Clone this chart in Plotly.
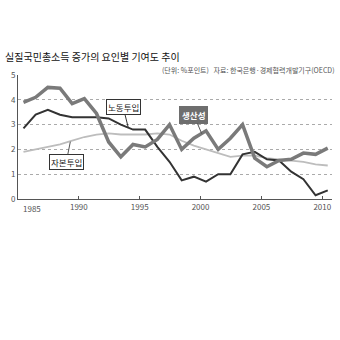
import plotly.graph_objects as go

years = list(range(1985, 2011))
productivity = [3.9, 4.1, 4.5, 4.47, 3.85, 4.05, 3.45, 2.3, 1.7, 2.2, 2.1, 2.4, 3.0, 2.0, 2.45, 2.75,
                2.0, 2.45, 3.0, 1.65, 1.3, 1.55, 1.6, 1.85, 1.8, 2.05]
labor = [2.85, 3.4, 3.6, 3.4, 3.3, 3.3, 3.3, 3.25, 3.0, 2.8, 2.8, 2.1, 1.5, 0.75, 0.9, 0.7,
         1.0, 1.0, 1.8, 1.9, 1.6, 1.55, 1.1, 0.8, 0.15, 0.35]
capital = [1.9, 2.0, 2.1, 2.2, 2.35, 2.5, 2.6, 2.65, 2.6, 2.6, 2.6, 2.65, 2.6, 2.35, 2.15, 2.0,
           1.85, 1.7, 1.75, 1.75, 1.65, 1.6, 1.55, 1.5, 1.4, 1.35]
x_ticks = [1985, 1990, 1995, 2000, 2005, 2010]
y_ticks = [0, 1, 2, 3, 4, 5]

# each year's value is drawn at the middle of that year
x_pos = [y + 0.45 for y in years]

FONT = "Noto Sans CJK KR"

fig = go.Figure()
fig.add_trace(go.Scatter(x=x_pos, y=capital, mode="lines", line=dict(color="#bdbdbd", width=1.8),
                         name="자본투입", showlegend=False))
fig.add_trace(go.Scatter(x=x_pos, y=labor, mode="lines", line=dict(color="#333333", width=2),
                         name="노동투입", showlegend=False))
fig.add_trace(go.Scatter(x=x_pos, y=productivity, mode="lines", line=dict(color="#7a7a7a", width=3.5),
                         name="생산성", showlegend=False))

fig.update_layout(
    width=340, height=340,
    margin=dict(l=18, r=8, t=75, b=141),
    paper_bgcolor="white", plot_bgcolor="white",
    font=dict(family=FONT, color="#555555", size=8),
    title=dict(text="실질국민총소득 증가의 요인별 기여도 추이", x=0.015, xref="container",
               y=1 - 57 / 340, yref="container", xanchor="left", yanchor="middle",
               font=dict(family=FONT, size=10, color="#111111")),
    xaxis=dict(range=[1985, 2010.8], tickvals=x_ticks[1:], ticks="inside", ticklen=3,
               tickcolor="#555555", showgrid=False, showline=True, linecolor="#555555",
               linewidth=1, zeroline=False, tickfont=dict(size=8, color="#555555")),
    yaxis=dict(range=[0, 5], tickvals=y_ticks, showgrid=True, gridcolor="#aaaaaa",
               griddash="dot", gridwidth=1, showline=True, linecolor="#555555", linewidth=1,
               zeroline=False, ticks="", tickfont=dict(size=8, color="#555555")),
)

# first year label sits just right of the y-axis
fig.add_annotation(text=str(x_ticks[0]), x=x_ticks[0], xref="x", y=0, yref="y", xanchor="left",
                   yanchor="top", xshift=3, yshift=-2, showarrow=False,
                   font=dict(size=8, color="#555555", family=FONT))

fig.add_annotation(text="(단위: %포인트)   자료: 한국은행·경제협력개발기구(OECD)", xref="paper", yref="paper",
                   x=1.015, y=1.04, xanchor="right", yanchor="middle", showarrow=False,
                   font=dict(size=7, color="#555555", family=FONT))

fig.add_annotation(x=1994.05, y=2.9, text="노동투입", showarrow=True, arrowhead=0, arrowwidth=1,
                   arrowcolor="#333333", ax=-5, ay=-20, bgcolor="white", bordercolor="#333333",
                   borderwidth=1, borderpad=1, font=dict(size=8.5, color="#222222", family=FONT))
fig.add_annotation(x=1989.3, y=2.31, text="자본투입", showarrow=True, arrowhead=0, arrowwidth=1,
                   arrowcolor="#555555", ax=-4, ay=20, bgcolor="white", bordercolor="#333333",
                   borderwidth=1, borderpad=1, font=dict(size=8.5, color="#222222", family=FONT))
fig.add_annotation(x=2000.1, y=2.63, text="<b>생산성</b>", showarrow=True, arrowhead=0, arrowwidth=1,
                   arrowcolor="#555555", ax=-8, ay=-19, bgcolor="#6e6e6e", bordercolor="#6e6e6e",
                   borderwidth=1, borderpad=2, font=dict(size=8.5, color="white", family=FONT))

fig.write_html("out.html")
